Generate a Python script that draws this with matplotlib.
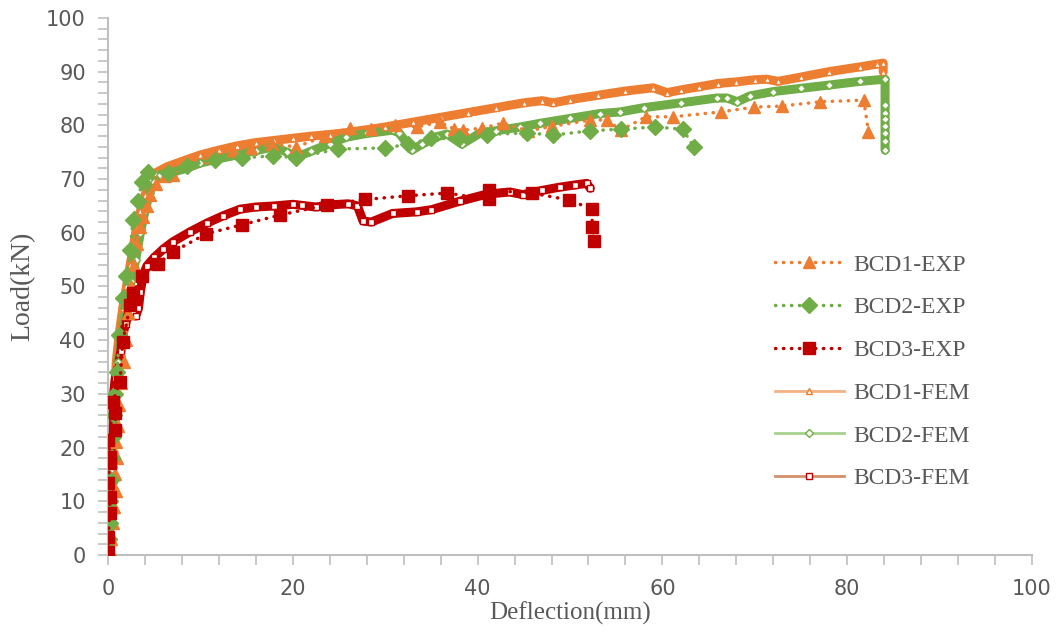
import matplotlib.pyplot as plt
from matplotlib.lines import Line2D
from matplotlib.ticker import MultipleLocator

# experimental curves (sparse points)
bcd1_exp_x = [0, 0.3, 0.5, 0.7, 0.9, 0.8, 1.0, 0.9, 1.1, 1.2, 1.4, 1.7, 1.9, 2.2, 2.5, 2.8, 3.1, 3.5, 3.8, 4.2, 4.5,
              5.2, 6.2, 7, 8.7, 11, 13.5, 15.5, 17.8, 20.4, 23.5, 26.2, 28.5, 31.1, 33.4, 35.9, 37.5, 38.4, 40.5,
              42.7, 45.5, 48, 52.2, 54, 55.5, 58.2, 61.1, 66.3, 69.9, 72.9, 77.1, 81.8, 82.3]
bcd1_exp_y = [0, 3, 6, 9, 12, 15, 18, 21, 24, 28, 32, 36, 40, 45, 50, 54, 58, 61, 63, 65, 67,
              69, 70.5, 70.8, 73.2, 74.2, 75.3, 75.8, 76.5, 76, 78, 79.5, 79.3, 80.1, 79.7, 80.6, 79.3, 79.1, 79.5,
              80.4, 79, 79.8, 81, 81, 79.1, 81.6, 81.6, 82.5, 83.4, 83.6, 84.4, 84.7, 78.8]

bcd2_exp_x = [0, 0.1, 0.2, 0.2, 0.3, 0.4, 0.5, 0.6, 0.8, 1.0, 1.2, 1.6, 2.0, 2.4, 2.7, 3.2, 3.7, 4.3, 6.5, 8.5,
              11.6, 14.5, 17.9, 20.4, 24.9, 30, 32.5, 35, 38, 41, 45.3, 48.2, 52.2, 55.5, 59.2, 62.2, 63.4]
bcd2_exp_y = [0, 3, 6, 10, 14, 18, 22, 26, 30, 34, 41, 47.9, 52, 56.8, 62.4, 66, 69.5, 71.3, 71.2, 72.5,
              73.6, 74, 74.3, 74, 75.6, 75.8, 76.5, 77.6, 77.6, 78.3, 78.6, 78.2, 79, 79.3, 79.7, 79.3, 76]

bcd3_exp_x = [0, 0, 0.2, 0.2, 0, 0.2, 0.2, 0, 0.8, 0.8, 0.5, 1.3, 1.6, 2.4, 2.7, 3.7, 5.4, 7, 10.6, 14.5, 18.6,
              23.7, 27.8, 32.5, 36.7, 41.2, 41.2, 45.9, 49.9, 52.4, 52.4, 52.6]
bcd3_exp_y = [0.5, 3.4, 7.8, 10.8, 13.4, 17.1, 18.3, 21.4, 23.3, 26.4, 28.5, 32.2, 39.7, 46.6, 48.8, 52, 54.2,
              56.4, 59.8, 61.5, 63.3, 65.2, 66.2, 66.9, 67.4, 66.2, 67.9, 67.4, 66.1, 64.4, 61.1, 58.5]

# finite element curves (read along the dense bands)
bcd1_fem_x = [0, 0.2, 0.4, 0.5, 0.7, 0.9, 1.2, 1.6, 2.0, 2.4, 2.8, 3.1, 3.5, 4.0, 4.5, 5.2, 6.4, 8.5, 10, 12,
              14, 16, 18, 20, 22, 24, 26, 28, 30, 33, 36, 39, 42, 45, 47, 48.2, 50, 53, 56, 59, 60.5, 62, 64,
              66, 68, 70, 71.3, 72.5, 75, 78, 81.4, 83.2, 83.9, 83.9]
bcd1_fem_y = [0, 8, 16, 24, 30, 36, 41, 46, 50, 54, 58, 61, 64, 67, 69.8, 71.2, 72.3, 73.6, 74.5, 75.4,
              76.2, 76.8, 77.2, 77.6, 78, 78.3, 78.7, 79.2, 79.7, 80.6, 81.5, 82.4, 83.3, 84.2, 84.6, 84.2, 84.8,
              85.6, 86.4, 87, 86.1, 86.6, 87.2, 87.8, 88.1, 88.5, 88.6, 88.2, 89, 90, 90.9, 91.4, 91.6, 90]

bcd2_fem_x = [0, 0.2, 0.4, 0.6, 0.8, 1.1, 1.5, 2.0, 2.5, 3.0, 3.5, 4.0, 4.5, 5.0, 5.6, 7, 8.5, 10, 12, 14, 16,
              17.9, 19.4, 20.4, 22, 24, 25.8, 28, 30.8, 31.5, 32.9, 34, 35.6, 36.7, 38.3, 40.3, 42, 44.6, 46.8,
              50, 53.2, 55.4, 58, 62, 65.9, 67, 68.1, 69.5, 72, 75, 78, 81.4, 84.1, 84.1, 84.1, 84.1, 84.1,
              84.1, 84.1, 84.1]
bcd2_fem_y = [0, 8, 16, 24, 30, 36, 41, 46, 51, 55, 60, 64, 67.5, 69.5, 70.8, 71.3, 72, 73, 73.8, 74.5, 75.3,
              76, 75, 74.1, 75.2, 76.6, 77.8, 78.5, 79.1, 78.6, 75.4, 76.5, 77.9, 78.4, 76.5, 78.6, 79, 79.7,
              80.4, 81.3, 82.2, 82.5, 83.3, 84.2, 85.1, 85.1, 84.4, 85.5, 86.3, 86.9, 87.5, 88.2, 88.6, 83.8,
              82.3, 81.2, 79.9, 78.5, 77, 75.4]

bcd3_fem_x = [0, 0.1, 0.2, 0.2, 0.3, 0.4, 0.5, 0.6, 0.8, 1.1, 1.4, 1.6, 1.9, 2.2, 2.4, 2.7, 3.0, 3.3, 3.5, 3.8,
              4.2, 5, 6, 7, 8.9, 10.7, 12.5, 14.3, 16, 18, 20, 21, 22.5, 24, 26, 27, 27.6, 28.5, 30.8, 33.4,
              35, 38.1, 41, 43.5, 44.9, 47, 48.9, 50.5, 51.8, 52.2]
bcd3_fem_y = [0, 5, 10, 14, 18, 22, 26, 30, 33, 35, 38, 41, 43, 45, 44.5, 45.5, 44.5, 46, 49, 52,
              53.8, 55.4, 57, 58.3, 60.2, 61.8, 63.2, 64.4, 64.8, 65, 65.3, 65.1, 64.8, 65.2, 65.4, 65, 62.2,
              62, 63.6, 63.9, 64.3, 65.9, 67.2, 67.6, 67.1, 67.9, 68.5, 68.9, 69.2, 68.3]

orange = "#ED7D31"
green = "#70AD47"
red = "#C00000"
grey = "#595959"
dots = (0, (0.1, 2.2))

plt.rcParams["font.family"] = ["DejaVu Sans"]
fig = plt.figure(figsize=(10.63, 6.4), dpi=100)
ax = fig.add_axes([0.1016, 0.1328, 0.8692, 0.8391])

# FEM bands: thick line plus small open markers
fem = [(bcd1_fem_x, bcd1_fem_y, orange, "^"),
       (bcd2_fem_x, bcd2_fem_y, green, "D"),
       (bcd3_fem_x, bcd3_fem_y, red, "s")]
for x, y, c, m in fem:
    ax.plot(x, y, color=c, lw=6.5, solid_capstyle="round", solid_joinstyle="round", zorder=2)
    ax.plot(x, y, ls="none", marker=m, ms=5 if m != "D" else 4, mfc="white", mec=c, mew=1, zorder=3)

exp = [(bcd1_exp_x, bcd1_exp_y, orange, "^", 9),
       (bcd2_exp_x, bcd2_exp_y, green, "D", 8),
       (bcd3_exp_x, bcd3_exp_y, red, "s", 9)]
for x, y, c, m, s in exp:
    ax.plot(x, y, color=c, lw=2.5, ls=dots, dash_capstyle="round", marker=m, ms=s,
            mfc=c, mec=c, zorder=4)

ax.set_xlim(0, 100)
ax.set_ylim(0, 100)
ax.xaxis.set_major_locator(MultipleLocator(20))
ax.xaxis.set_minor_locator(MultipleLocator(4))
ax.yaxis.set_major_locator(MultipleLocator(10))
ax.yaxis.set_minor_locator(MultipleLocator(2))
for s in ["top", "right"]:
    ax.spines[s].set_visible(False)
for s in ["left", "bottom"]:
    ax.spines[s].set_color("#BFBFBF")
    ax.spines[s].set_linewidth(1.5)
ax.tick_params(which="both", direction="out", length=7, width=1.2, color="#BFBFBF")
ax.tick_params(axis="y", labelsize=15, labelcolor=grey, pad=9)
ax.tick_params(axis="x", labelsize=15, labelcolor=grey, pad=10)

ax.set_xlabel("Deflection(mm)", fontsize=18, color=grey, family="Liberation Serif", labelpad=2)
ax.set_ylabel("Load(kN)", fontsize=20, color=grey, family="Liberation Serif", labelpad=8)

handles = [
    Line2D([], [], color=orange, lw=2.5, ls=dots, dash_capstyle="round", marker="^", ms=9),
    Line2D([], [], color=green, lw=2.5, ls=dots, dash_capstyle="round", marker="D", ms=8),
    Line2D([], [], color=red, lw=2.5, ls=dots, dash_capstyle="round", marker="s", ms=9),
    Line2D([], [], color="#F4B183", lw=2, marker="^", ms=5, mfc="white", mec=orange),
    Line2D([], [], color="#A9D18E", lw=2, marker="D", ms=4, mfc="white", mec=green),
    Line2D([], [], color="#D4906A", lw=2, marker="s", ms=5, mfc="white", mec=red),
]
labels = ["BCD1-EXP", "BCD2-EXP", "BCD3-EXP", "BCD1-FEM", "BCD2-FEM", "BCD3-FEM"]
leg = ax.legend(handles, labels, loc="upper left", bbox_to_anchor=(0.699, 0.6), frameon=False,
                prop={"family": "Liberation Serif", "size": 17}, labelcolor=grey,
                handlelength=2.9, handletextpad=0.42, labelspacing=0.9, numpoints=1)

fig.savefig("out.png", dpi=100)
plt.close(fig)
